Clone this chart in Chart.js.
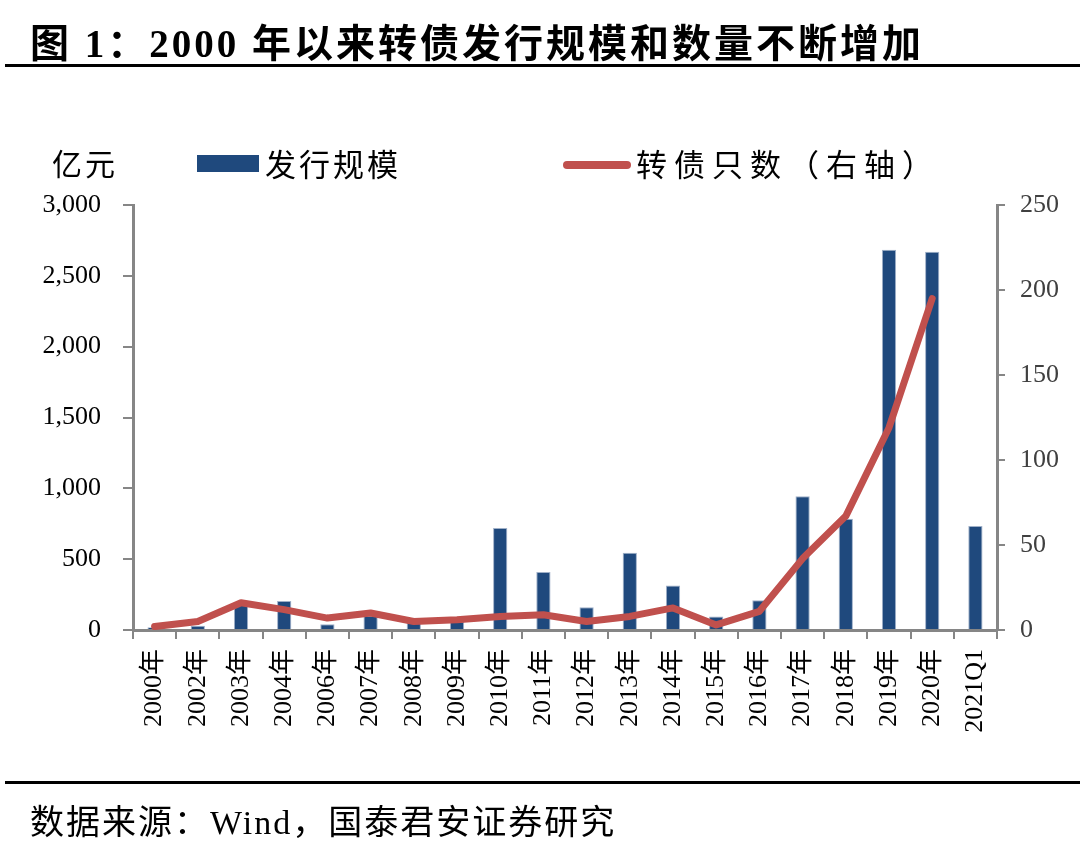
<!DOCTYPE html>
<html>
<head>
<meta charset="utf-8">
<script src="https://cdn.jsdelivr.net/npm/chart.js@4.4.1/dist/chart.umd.min.js"></script>
<style>
  body { margin: 0; background: #fff; }
  #wrap { position: relative; width: 1080px; height: 843px; overflow: hidden; font-family: "Liberation Serif", "Noto Sans CJK SC", serif; }
  #chart { position: absolute; left: 0; top: 0; }
  .txt { position: absolute; white-space: nowrap; color: #000; }
  #title { left: 30px; top: 12px; font-size: 39px; font-weight: bold; letter-spacing: 3px; }
  .rule { position: absolute; left: 5px; width: 1075px; height: 3px; background: #000; }
  #unit { left: 52px; top: 140px; font-size: 30px; letter-spacing: 3px; }
  .leg { position: absolute; top: 140px; font-size: 31px; white-space: nowrap; letter-spacing: 3px; }
  .sw-bar { position: absolute; left: 197px; top: 155px; width: 62px; height: 17px; background: #1F497D; }
  .sw-line { position: absolute; left: 563px; top: 161px; width: 68px; height: 8px; border-radius: 4px; background: #C0504D; }
  #source { left: 30px; top: 795px; font-size: 34px; letter-spacing: 2px; }
</style>
</head>
<body>
<div id="wrap">
  <canvas id="chart" width="1080" height="843"></canvas>
  <div class="txt" id="title">图 1：2000 年以来转债发行规模和数量不断增加</div>
  <div class="rule" style="top:64px"></div>
  <div class="txt" id="unit">亿元</div>
  <div class="sw-bar"></div>
  <div class="leg" style="left:265px">发行规模</div>
  <div class="sw-line"></div>
  <div class="leg" style="left:636px; letter-spacing:7px">转债只数（右轴）</div>
  <div class="rule" style="top:781px"></div>
  <div class="txt" id="source">数据来源：Wind，国泰君安证券研究</div>
</div>
<script>
// 年份
const years = ["2000年", "2002年", "2003年", "2004年", "2006年", "2007年", "2008年", "2009年", "2010年",
  "2011年", "2012年", "2013年", "2014年", "2015年", "2016年", "2017年", "2018年", "2019年", "2020年", "2021Q1"];
// 发行规模（亿元）
const issueSize = [20, 30, 180, 205, 40, 100, 55, 60, 720, 410, 160, 545, 315, 95, 210, 945, 785, 2685, 2670, 735];
// 转债只数（右轴）
const bondCount = [2, 5, 16, 12, 7, 10, 5, 6, 8, 9, 5, 8, 13, 3, 11, 42, 67, 119, 195, null];

const leftTicks = [0, 500, 1000, 1500, 2000, 2500, 3000];
const rightTicks = [0, 50, 100, 150, 200, 250];

const axisGray = "#868686";
const serif = "'Liberation Serif', 'Noto Sans CJK SC', serif";

new Chart("chart", {
  type: "bar",
  data: {
    labels: years,
    datasets: [{
      type: "line",
      label: "转债只数（右轴）",
      data: bondCount,
      yAxisID: "y1",
      borderColor: "#C0504D",
      borderWidth: 7,
      pointRadius: 0,
      borderJoinStyle: "round",
      borderCapStyle: "round",
      tension: 0,
      fill: false,
      order: 0
    }, {
      label: "发行规模",
      data: issueSize,
      yAxisID: "y",
      backgroundColor: "#1F497D",
      borderColor: "#9fb0c8",
      borderWidth: 1,
      barPercentage: 0.33,
      categoryPercentage: 1,
      order: 1
    }]
  },
  options: {
    responsive: false,
    animation: false,
    layout: { padding: { left: 0, right: 0, top: 205, bottom: 0 } },
    plugins: {
      legend: { display: false },
      tooltip: { enabled: false }
    },
    scales: {
      x: {
        afterFit: function (s) { s.height = 213; },
        grid: { drawOnChartArea: false, drawTicks: true, tickLength: 9, color: axisGray, lineWidth: 2 },
        border: { color: axisGray, width: 3 },
        ticks: {
          autoSkip: false, minRotation: 90, maxRotation: 90, padding: 10,
          color: "#000", font: { family: serif, size: 26 }
        }
      },
      y: {
        position: "left",
        min: 0, max: 3000,
        afterFit: function (s) { s.width = 133; },
        afterBuildTicks: function (s) { s.ticks = leftTicks.map(v => ({ value: v })); },
        grid: { drawOnChartArea: false, drawTicks: true, tickLength: 10, color: axisGray, lineWidth: 2 },
        border: { color: axisGray, width: 3 },
        ticks: {
          padding: 22, color: "#000", font: { family: serif, size: 26 },
          callback: function (v) { return v.toLocaleString("en-US"); }
        }
      },
      y1: {
        position: "right",
        min: 0, max: 250,
        afterFit: function (s) { s.width = 83; },
        afterBuildTicks: function (s) { s.ticks = rightTicks.map(v => ({ value: v })); },
        grid: { drawOnChartArea: false, drawTicks: true, tickLength: 8, color: axisGray, lineWidth: 2 },
        border: { color: axisGray, width: 3 },
        ticks: { padding: 15, color: "#404040", font: { family: serif, size: 26 } }
      }
    }
  }
});
</script>
</body>
</html>
